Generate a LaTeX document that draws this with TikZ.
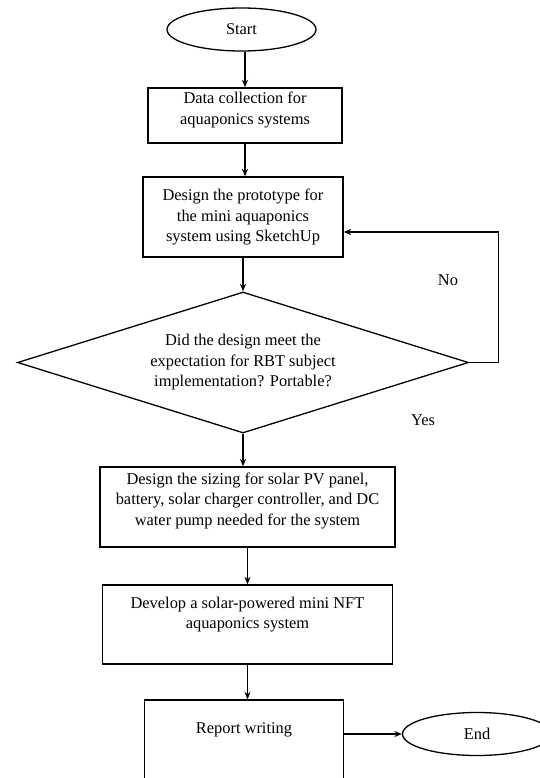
\documentclass[tikz,border=0pt]{standalone}
\usepackage{fontspec}
\setmainfont{Liberation Serif}
\usepackage{tikz}
\usetikzlibrary{arrows,arrows.meta,shapes,positioning}
\tikzstyle{arrow} = [line width=1.3pt,->,>={Stealth[length=7.5pt,width=6pt]}]
\tikzstyle{process} = [rectangle, draw, line width=1.3pt, minimum width=194pt, minimum height=55pt, align=center, inner sep=2pt]
\tikzstyle{terminal} = [ellipse, draw, line width=1.3pt, minimum width=149pt, minimum height=43pt]
\tikzstyle{decision} = [diamond, draw, line width=1.3pt, aspect=3.2, minimum width=451pt, minimum height=141pt, inner sep=0pt, align=center]

\begin{document}
\begin{tikzpicture}[x=1pt, y=-1pt, font=\fontsize{16.4}{20.5}\selectfont]
\useasboundingbox (0,0) rectangle (540,778);
\clip (0,0) rectangle (540,778);
% Main flow
\node (start) [terminal] at (241.5,29.5) {Start};
\node (collect) [process, below of=start, node distance=86pt, xshift=3.5pt, text depth=14.6pt] {Data collection for\\aquaponics systems};
\node (design) [process, below of=collect, node distance=101.5pt, xshift=-2pt, minimum width=200pt, minimum height=80pt] {Design the prototype for\\the mini aquaponics\\system using SketchUp};
\node (check) [decision, below of=design, node distance=145.5pt] {Did the design meet the\\expectation for RBT subject\\implementation? Portable?};
\node (sizing) [process, below of=check, node distance=144.5pt, xshift=4.5pt, minimum width=295pt, minimum height=80pt, text depth=15.6pt] {Design the sizing for solar PV panel,\\battery, solar charger controller, and DC\\water pump needed for the system};
\node (develop) [process, below of=sizing, node distance=117.5pt, minimum width=290pt, minimum height=79pt, text depth=23pt] {Develop a solar-powered mini NFT\\aquaponics system};
\node (report) [process, below of=develop, node distance=130.5pt, xshift=-3.5pt, minimum width=199pt, inner sep=0pt, text height=33pt, text depth=77pt] {Report writing};
\node (finish) [terminal] at (477,734) {End};

% Labels
\node (lblno) at (448,280) {No};
\node (lblyes) at (423,420) {Yes};

% Connections
\draw[arrow] (start.south -| collect) -- (collect.north);
\draw[arrow] (collect.south) -- (collect.south |- design.north);
\draw[arrow] (design.south) -- (check.north);
\draw[arrow] (check.south) -- (check.south |- sizing.north);
\draw[arrow] (sizing.south) -- (develop.north);
\draw[arrow] (develop.south) -- (develop.south |- report.north);
\draw[arrow] (report.east |- finish) -- (finish);
\draw[arrow] (check.east) -- ++(29,0) |- ([yshift=-15pt]design.east);
\end{tikzpicture}
\end{document}
